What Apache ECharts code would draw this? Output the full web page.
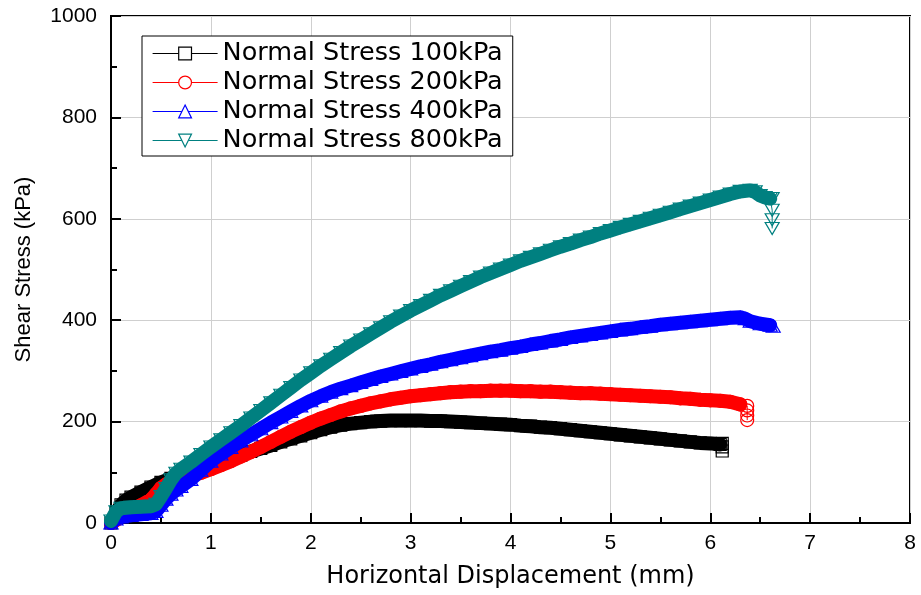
<!DOCTYPE html>
<html>
<head>
<meta charset="utf-8">
<script src="https://cdn.jsdelivr.net/npm/echarts@6/dist/echarts.min.js"></script>
<style>
html,body{margin:0;padding:0;background:#fff;}
#chart{width:921px;height:595px;}
</style>
</head>
<body>
<div id="chart"></div>
<script>
// ---- data (horizontal displacement mm, shear stress kPa) ----
const seriesNames = ['Normal Stress 100kPa','Normal Stress 200kPa','Normal Stress 400kPa','Normal Stress 800kPa'];
const xTicks = [0,1,2,3,4,5,6,7,8];
const yTicks = [0,200,400,600,800,1000];

const s100 = [[0,0],[0.05,20],[0.1,36],[0.15,45],[0.2,51],[0.3,61],[0.4,71],[0.5,80],[0.6,88],[0.7,95],[0.8,102],[0.9,108],[1.0,114],[1.1,120],[1.2,127],[1.3,134],[1.4,141],[1.5,147],[1.6,153],[1.7,160],[1.8,166],[1.9,172],[2.0,178],[2.1,184],[2.2,189],[2.3,193],[2.4,196],[2.5,198],[2.6,200],[2.7,201],[2.8,202],[2.9,202],[3.0,202],[3.1,202],[3.2,201],[3.3,201],[3.4,200],[3.5,199],[3.6,198],[3.7,197],[3.8,196],[3.9,195],[4.0,194],[4.1,192],[4.2,191],[4.3,189],[4.4,188],[4.5,186],[4.6,184],[4.7,182],[4.8,180],[4.9,178],[5.0,176],[5.1,174],[5.2,172],[5.3,170],[5.4,168],[5.5,166],[5.6,164],[5.7,162],[5.8,160],[5.9,158],[6.0,157],[6.1,155]];
const tail100 = [[6.12,157],[6.12,150],[6.12,142]];

const s200 = [[0,0],[0.05,6],[0.1,13],[0.15,19],[0.2,25],[0.3,35],[0.4,46],[0.45,57],[0.5,69],[0.55,76],[0.6,80],[0.7,87],[0.8,93],[0.9,99],[1.0,106],[1.1,114],[1.2,122],[1.3,131],[1.4,140],[1.5,150],[1.6,160],[1.7,170],[1.8,180],[1.9,189],[2.0,198],[2.1,206],[2.2,213],[2.3,220],[2.4,226],[2.5,231],[2.6,236],[2.7,240],[2.8,244],[2.9,247],[3.0,250],[3.1,252],[3.2,254],[3.3,256],[3.4,258],[3.5,259],[3.6,260],[3.7,260],[3.8,261],[3.9,261],[4.0,261],[4.1,260],[4.2,260],[4.3,259],[4.4,259],[4.5,258],[4.6,257],[4.7,256],[4.8,256],[4.9,255],[5.0,254],[5.1,253],[5.2,252],[5.3,251],[5.4,250],[5.5,249],[5.6,248],[5.7,246],[5.8,245],[5.9,243],[6.0,242],[6.1,241],[6.2,239],[6.3,234]];
const tail200 = [[6.37,231],[6.37,222],[6.37,212],[6.37,203]];

const s400 = [[0,0],[0.05,8],[0.1,12],[0.2,15],[0.3,17],[0.4,19],[0.45,23],[0.5,35],[0.55,47],[0.6,57],[0.65,65],[0.7,72],[0.8,86],[0.9,104],[1.0,122],[1.1,136],[1.2,149],[1.3,162],[1.4,174],[1.5,186],[1.6,198],[1.7,209],[1.8,220],[1.9,231],[2.0,241],[2.1,250],[2.2,258],[2.3,265],[2.4,271],[2.5,277],[2.6,283],[2.7,289],[2.8,294],[2.9,299],[3.0,304],[3.1,309],[3.2,313],[3.3,318],[3.4,322],[3.5,326],[3.6,330],[3.7,334],[3.8,338],[3.9,341],[4.0,345],[4.1,348],[4.2,352],[4.3,355],[4.4,359],[4.5,362],[4.6,366],[4.7,369],[4.8,372],[4.9,375],[5.0,378],[5.1,381],[5.2,383],[5.3,386],[5.4,388],[5.5,391],[5.6,393],[5.7,395],[5.8,397],[5.9,399],[6.0,401],[6.1,403],[6.2,405],[6.3,406],[6.35,403],[6.4,398],[6.5,393],[6.6,390]];
const tail400 = [[6.63,388]];

const s800 = [[0,4],[0.05,22],[0.1,29],[0.2,31],[0.3,32],[0.4,33],[0.45,37],[0.5,52],[0.55,68],[0.6,85],[0.65,98],[0.7,106],[0.8,120],[0.9,135],[1.0,150],[1.1,164],[1.2,178],[1.3,192],[1.4,207],[1.5,222],[1.6,237],[1.7,252],[1.8,267],[1.9,282],[2.0,296],[2.1,310],[2.2,323],[2.3,336],[2.4,349],[2.5,361],[2.6,373],[2.7,385],[2.8,397],[2.9,408],[3.0,419],[3.1,429],[3.2,439],[3.3,449],[3.4,458],[3.5,467],[3.6,476],[3.7,485],[3.8,493],[3.9,501],[4.0,509],[4.1,517],[4.2,524],[4.3,531],[4.4,538],[4.5,545],[4.6,551],[4.7,558],[4.8,564],[4.9,571],[5.0,577],[5.1,583],[5.2,589],[5.3,595],[5.4,601],[5.5,607],[5.6,613],[5.7,619],[5.8,625],[5.9,631],[6.0,637],[6.1,643],[6.2,649],[6.3,654],[6.4,656],[6.45,653],[6.5,646],[6.55,642],[6.6,640]];
const tail800 = [[6.62,640],[6.62,617],[6.62,598],[6.62,581]];

// ---- styling ----
const colors = ['#000000','#ff0000','#0000ff','#008080'];
const symbols = ['rect','circle','triangle','triangle'];
const symbolRotates = [0,0,0,180];
const symbolSizes = [12,13,[14,12],[14,12]];
const mains = [s100,s200,s400,s800];
const tails = [tail100,tail200,tail400,tail800];
const arialLike = "'Liberation Sans', Arial, Helvetica, sans-serif";

const series = [];
seriesNames.forEach(function(name,i){
  series.push({
    name: name, type:'line', z: 10+2*i+1,
    data: mains[i].concat(tails[i]),
    symbol: symbols[i], symbolRotate: symbolRotates[i], symbolSize: symbolSizes[i],
    showAllSymbol: true,
    itemStyle:{color:'rgba(0,0,0,0)', borderColor: colors[i], borderWidth:1.2},
    lineStyle:{color: colors[i], width:1},
    emphasis:{disabled:true}
  });
  series.push({
    name: name, type:'line', z: 10+2*i,
    data: mains[i],
    symbol:'none',
    lineStyle:{color: colors[i], width:14, cap:'round', join:'round'},
    emphasis:{disabled:true}
  });
});

const axisCommon = {
  axisLine:{show:true, onZero:false, lineStyle:{color:'#000', width:2}},
  axisTick:{show:true, inside:true, length:10, lineStyle:{color:'#000', width:2}},
  minorTick:{show:true, splitNumber:2, length:6, lineStyle:{color:'#000', width:2}},
  splitLine:{show:true, lineStyle:{color:'#cfcfcf', width:1}},
};

const chart = echarts.init(document.getElementById('chart'), null, {renderer:'canvas'});
chart.setOption({
  animation:false,
  backgroundColor:'#fff',
  grid:{left:111, right:11, top:16, bottom:72, show:true, borderColor:'#000', borderWidth:2, backgroundColor:'transparent'},
  xAxis: Object.assign({}, axisCommon, {
    type:'value', min:xTicks[0], max:xTicks[xTicks.length-1], interval:1,
    axisLabel:{color:'#000', fontSize:21, fontFamily:arialLike, margin:10, formatter:function(v){return String(v);}},
    name:'Horizontal Displacement (mm)', nameLocation:'middle', nameGap:42,
    nameTextStyle:{color:'#000', fontSize:24, fontFamily:'DejaVu Sans'}
  }),
  yAxis: Object.assign({}, axisCommon, {
    type:'value', min:yTicks[0], max:yTicks[yTicks.length-1], interval:200,
    axisLabel:{color:'#000', fontSize:21, fontFamily:arialLike, margin:14, formatter:function(v){return String(v);}},
    name:'Shear Stress (kPa)', nameLocation:'middle', nameGap:76,
    nameTextStyle:{color:'#000', fontSize:22, fontFamily:arialLike}
  }),
  legend:{
    orient:'vertical', left:142, top:36,
    backgroundColor:'#fff', borderColor:'#000', borderWidth:1, borderRadius:0,
    padding:[3,10,1,10], itemGap:0, itemWidth:65, itemHeight:16,
    textStyle:{color:'#000', fontSize:25.5, fontFamily:'DejaVu Sans', lineHeight:29},
    data: seriesNames.map(function(n,i){
      return {name:n, itemStyle:{color:'#fff', borderColor:colors[i], borderWidth:1.2},
              lineStyle:{color:colors[i], width:1.2}};
    })
  },
  series: series
});
</script>
</body>
</html>
